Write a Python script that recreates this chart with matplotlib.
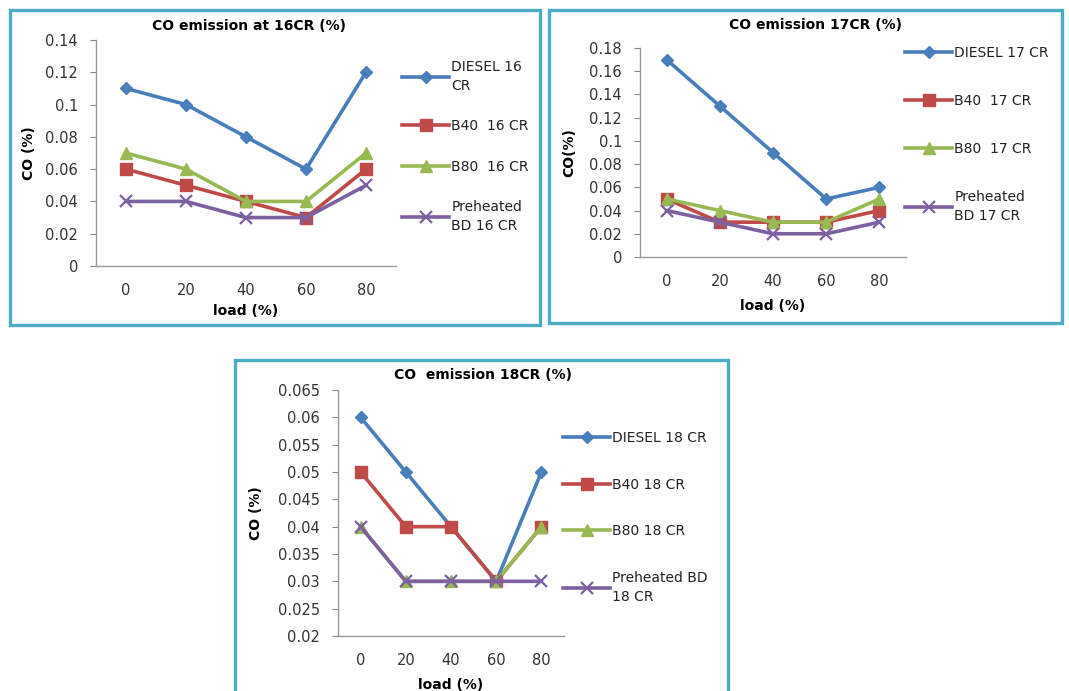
import numpy as np
import matplotlib
matplotlib.use('Agg')
import matplotlib.pyplot as plt
from matplotlib.patches import Rectangle
from matplotlib.ticker import FuncFormatter, MultipleLocator

plt.rcParams['font.family'] = ['DejaVu Sans']

## data
load = [0, 20, 40, 60, 80]

# 16 CR
diesel_16 = [0.11, 0.10, 0.08, 0.06, 0.12]
b40_16 = [0.06, 0.05, 0.04, 0.03, 0.06]
b80_16 = [0.07, 0.06, 0.04, 0.04, 0.07]
pre_16 = [0.04, 0.04, 0.03, 0.03, 0.05]
labels_16 = ['DIESEL 16\nCR', 'B40  16 CR', 'B80  16 CR', 'Preheated\nBD 16 CR']

# 17 CR
diesel_17 = [0.17, 0.13, 0.09, 0.05, 0.06]
b40_17 = [0.05, 0.03, 0.03, 0.03, 0.04]
b80_17 = [0.05, 0.04, 0.03, 0.03, 0.05]
pre_17 = [0.04, 0.03, 0.02, 0.02, 0.03]
labels_17 = ['DIESEL 17 CR', 'B40  17 CR', 'B80  17 CR', 'Preheated\nBD 17 CR']

# 18 CR
diesel_18 = [0.06, 0.05, 0.04, 0.03, 0.05]
b40_18 = [0.05, 0.04, 0.04, 0.03, 0.04]
b80_18 = [0.04, 0.03, 0.03, 0.03, 0.04]
pre_18 = [0.04, 0.03, 0.03, 0.03, 0.03]
labels_18 = ['DIESEL 18 CR', 'B40 18 CR', 'B80 18 CR', 'Preheated BD\n18 CR']

colors = ['#4A7EBB', '#BE4B48', '#98B954', '#7D60A0']
markers = ['D', 's', '^', 'x']
msizes = [6.5, 8, 8, 8]
frame_col = '#4BACC6'

W, H = 1069, 691
fig = plt.figure(figsize=(W / 100, H / 100), dpi=100)
fig.patch.set_facecolor('white')


def px(l, t, r, b):
    # pixel box -> figure fraction rect
    return [l / W, 1 - b / H, (r - l) / W, (b - t) / H]


#   series, labels, title, ylabel, ylim, step, axes box, frame box,
#   title x/pad, legend top-left, labelspacing, ylabel x, xlabel y
panels = [
    ([diesel_16, b40_16, b80_16, pre_16], labels_16, 'CO emission at 16CR (%)', 'CO (%)',
     (0, 0.14), 0.02, (96, 40, 396, 266), (10, 10, 540, 325), (0.51, 7), (402, 60), 1.9, -0.2, -0.17),
    ([diesel_17, b40_17, b80_17, pre_17], labels_17, 'CO emission 17CR (%)', 'CO(%)',
     (0, 0.18), 0.02, (640, 48, 906, 257), (549, 10, 1062, 323), (0.66, 14), (905, 46), 2.45, -0.24, -0.2),
    ([diesel_18, b40_18, b80_18, pre_18], labels_18, 'CO  emission 18CR (%)', 'CO (%)',
     (0.02, 0.065), 0.005, (338, 390, 564, 636), (235, 360, 728, 700), (0.64, 8), (563, 431), 2.35, -0.33, -0.17),
]

fmt = FuncFormatter(lambda v, p: ('%.3f' % v).rstrip('0').rstrip('.'))
x = np.arange(len(load))

for series, labels, title, ylab, ylim, step, abox, fbox, tpos, lpos, lsp, ylx, xly in panels:
    # outer teal frame
    l, t, r, b = fbox
    fig.patches.append(Rectangle((l / W, 1 - b / H), (r - l) / W, (b - t) / H,
                                 transform=fig.transFigure, fill=False,
                                 edgecolor=frame_col, lw=2.4, zorder=0))

    ax = fig.add_axes(px(*abox))
    lines = []
    for vals, c, m, ms in zip(series, colors, markers, msizes):
        ln, = ax.plot(x, vals, color=c, marker=m, markersize=ms, lw=2.6,
                      mew=1.6 if m == 'x' else 1, clip_on=False)
        lines.append(ln)

    ax.set_xlim(-0.5, len(load) - 0.5)
    ax.set_ylim(*ylim)
    ax.set_xticks(x)
    ax.set_xticklabels([str(v) for v in load])
    ax.yaxis.set_major_locator(MultipleLocator(step))
    ax.yaxis.set_major_formatter(fmt)
    ax.tick_params(axis='x', length=0, pad=12, labelsize=10.5, colors='#333333')
    ax.tick_params(axis='y', length=4, width=0.8, color='#888888', pad=9,
                   labelsize=10.5, labelcolor='#333333')
    for s in ['top', 'right']:
        ax.spines[s].set_visible(False)
    for s in ['left', 'bottom']:
        ax.spines[s].set_color('#999999')
        ax.spines[s].set_linewidth(1)

    ax.set_title(title, fontsize=10, fontweight='bold', x=tpos[0], pad=tpos[1])
    ax.set_xlabel('load (%)', fontsize=10, fontweight='bold')
    ax.xaxis.set_label_coords(0.5, xly)
    ax.set_ylabel(ylab, fontsize=10, fontweight='bold')
    ax.yaxis.set_label_coords(ylx, 0.5)

    leg = ax.legend(lines, labels, loc='upper left',
                    bbox_to_anchor=(lpos[0] / W, 1 - lpos[1] / H),
                    bbox_transform=fig.transFigure, frameon=False,
                    borderpad=0, borderaxespad=0, handlelength=3.4,
                    handletextpad=0.15, labelspacing=lsp, fontsize=10)
    for txt in leg.get_texts():
        txt.set_linespacing(1.45)
        txt.set_color('#222222')

fig.savefig('out.png', dpi=100, facecolor='white')
